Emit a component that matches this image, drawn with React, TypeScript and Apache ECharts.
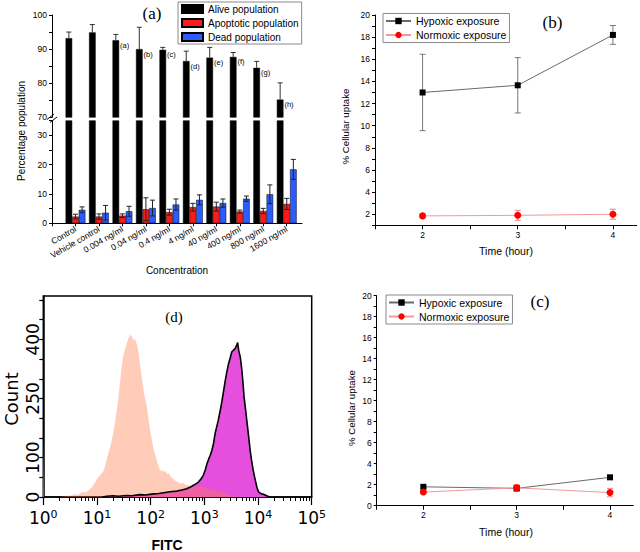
import React, { useEffect, useRef } from 'react';
import * as echarts from 'echarts';

// ---------- panel (a) ----------
const concentrations = ['Control', 'Vehicle control', '0.004 ng/ml', '0.04 ng/ml', '0.4 ng/ml', '4 ng/ml', '40 ng/ml', '400 ng/ml', '800 ng/ml', '1600 ng/ml'];
const alive = [93.2, 94.9, 92.6, 90.0, 89.8, 86.5, 87.5, 87.7, 84.5, 75.2];
const aliveErr = [1.8, 2.3, 1.7, 6.4, 0.7, 2.9, 3.0, 1.3, 1.9, 4.9];
const apoptotic = [2.3, 2.3, 2.6, 4.8, 3.8, 5.5, 5.7, 4.0, 4.2, 6.6];
const apoptoticErr = [0.8, 0.9, 0.6, 3.9, 1.0, 1.3, 1.5, 0.5, 0.9, 1.9];
const dead = [4.6, 3.6, 4.1, 5.2, 6.4, 8.0, 6.9, 8.4, 9.9, 18.4];
const deadErr = [1.0, 2.5, 1.7, 2.7, 1.9, 1.7, 1.4, 0.9, 3.2, 3.4];
const aliveNotes = ['', '', '(a)', '(b)', '(c)', '(d)', '(e)', '(f)', '(g)', '(h)'];
const upperTicks = [70, 75, 80, 85, 90, 95, 100];
const upperLabels = [70, 80, 90, 100];
const lowerTicks = [0, 5, 10, 15, 20, 25, 30, 35];
const lowerLabels = [0, 10, 20, 30];

// ---------- panels (b), (c) ----------
const hours = [2, 3, 4];
const hypoxicB = [13.0, 13.65, 18.2];
const hypoxicBErr = [3.45, 2.5, 0.85];
const normoxicB = [1.85, 1.9, 2.0];
const normoxicBErr = [0.2, 0.45, 0.45];
const hypoxicC = [1.8, 1.65, 2.7];
const hypoxicCErr = [0.12, 0.2, 0.2];
const normoxicC = [1.3, 1.7, 1.25];
const normoxicCErr = [0.15, 0.3, 0.4];
const timeTicks = [1.5, 2, 2.5, 3, 3.5, 4];
const timeLabels = [2, 3, 4];
const uptakeLabels = [0, 2, 4, 6, 8, 10, 12, 14, 16, 18, 20];

// ---------- panel (d) : [log10(FITC), count] ----------
const controlHist: number[][] = [
  [0.30, 0], [0.40, 2], [0.44, 4], [0.50, 3], [0.55, 5], [0.60, 7], [0.65, 6], [0.70, 10], [0.75, 13], [0.80, 12],
  [0.85, 18], [0.90, 24], [0.93, 30], [0.97, 38], [1.00, 45], [1.03, 51], [1.06, 56], [1.09, 60], [1.12, 66], [1.15, 78],
  [1.18, 95], [1.21, 110], [1.24, 124], [1.27, 140], [1.30, 160], [1.33, 185], [1.36, 212], [1.39, 240], [1.42, 280], [1.45, 318],
  [1.48, 352], [1.50, 362], [1.52, 375], [1.54, 381], [1.56, 392], [1.58, 400], [1.60, 408], [1.62, 415], [1.63, 405], [1.64, 411],
  [1.66, 404], [1.68, 398], [1.70, 402], [1.72, 396], [1.74, 388], [1.76, 378], [1.78, 360], [1.80, 338], [1.82, 318], [1.84, 298],
  [1.86, 279], [1.88, 262], [1.90, 248], [1.93, 228], [1.96, 196], [1.99, 169], [2.02, 148], [2.05, 124], [2.08, 110], [2.11, 95],
  [2.14, 80], [2.17, 70], [2.20, 64], [2.22, 70], [2.25, 63], [2.28, 66], [2.31, 58], [2.34, 60], [2.37, 52], [2.40, 48],
  [2.45, 42], [2.50, 38], [2.55, 34], [2.60, 36], [2.65, 31], [2.70, 30], [2.75, 27], [2.80, 25], [2.85, 28], [2.90, 28],
  [2.95, 26], [3.00, 25], [3.05, 22], [3.10, 20], [3.15, 18], [3.20, 17], [3.25, 15], [3.30, 14], [3.35, 12], [3.40, 10],
  [3.45, 7], [3.50, 4], [3.55, 2], [3.60, 0],
];
const treatedSpike: number[][] = [[0, 0], [0, 145], [0.012, 145], [0.014, 0]];
const treatedHist: number[][] = [
  [1.10, 0], [1.18, 2], [1.30, 3], [1.40, 2], [1.55, 4], [1.65, 3], [1.80, 6], [1.90, 5], [2.05, 8], [2.15, 9],
  [2.30, 12], [2.40, 14], [2.49, 15], [2.58, 18], [2.67, 21], [2.75, 26], [2.80, 30], [2.85, 34], [2.89, 38], [2.94, 46],
  [2.98, 55], [3.02, 70], [3.05, 85], [3.08, 96], [3.11, 106], [3.14, 118], [3.17, 135], [3.20, 161], [3.23, 178], [3.26, 195],
  [3.30, 222], [3.33, 245], [3.36, 270], [3.39, 296], [3.42, 318], [3.45, 338], [3.48, 352], [3.51, 368], [3.54, 372], [3.57, 376],
  [3.60, 384], [3.62, 392], [3.64, 372], [3.67, 355], [3.70, 321], [3.72, 290], [3.74, 254], [3.77, 220], [3.79, 195], [3.82, 160],
  [3.84, 135], [3.86, 112], [3.88, 93], [3.91, 68], [3.95, 42], [3.98, 24], [4.01, 13], [4.05, 9], [4.10, 7], [4.16, 3], [4.22, 0],
];
const decades = [0, 1, 2, 3, 4, 5];
const countTicks = [0, 50, 100, 150, 200, 250, 300, 350, 400, 450, 500];
const countLabels = [0, 100, 250, 400];

const SANS = "'Liberation Sans', Arial, sans-serif";
const SERIF = "'Liberation Serif', 'Times New Roman', serif";
const DV = "'DejaVu Sans', sans-serif";

const BW = 6.6;

function errSeries(xi: number, yi: number, xs: number[], vals: number[], errs: number[], dx: number, color: string, upOnly: boolean, cap: number) {
  return {
    type: 'custom',
    xAxisIndex: xi,
    yAxisIndex: yi,
    z: 1,
    silent: true,
    clip: false,
    encode: { x: 0, y: 1 },
    data: vals.map((v, i) => [xs[i], v, errs[i]]),
    renderItem: (params: any, api: any) => {
      const x = api.value(0);
      const v = api.value(1);
      const e = api.value(2);
      const top = api.coord([x, v + e]);
      const bot = api.coord([x, upOnly ? v : v - e]);
      const px = top[0] + dx;
      const style = { stroke: color, lineWidth: 1 };
      const children: any[] = [
        { type: 'line', shape: { x1: px, y1: top[1], x2: px, y2: bot[1] }, style },
        { type: 'line', shape: { x1: px - cap, y1: top[1], x2: px + cap, y2: top[1] }, style },
      ];
      if (!upOnly) children.push({ type: 'line', shape: { x1: px - cap, y1: bot[1], x2: px + cap, y2: bot[1] }, style });
      return { type: 'group', children };
    },
  };
}

function numAxisBase(gi: number) {
  return {
    type: 'value',
    gridIndex: gi,
    splitLine: { show: false },
    axisLine: { show: true, onZero: false, lineStyle: { color: '#000', width: 1 } },
    axisTick: { show: true, inside: false, length: 3, lineStyle: { color: '#000' } },
    axisLabel: { color: '#000', fontSize: 8.5, fontFamily: SANS, margin: 4 },
  };
}

export default function App() {
  const ref = useRef<HTMLDivElement>(null);
  useEffect(() => {
    if (!ref.current) return;
    const chart = echarts.init(ref.current, undefined, { renderer: 'svg' });
    const catX = concentrations.map((_, i) => i + 1);

    const grids = [
      { left: 52, top: 15, width: 250, height: 102.3 },
      { left: 52, top: 120.7, width: 250, height: 102.6 },
      { left: 375, top: 15, width: 261.7, height: 210.3 },
      { left: 376.7, top: 295.7, width: 256.6, height: 210 },
      { left: 43.3, top: 296, width: 268.4, height: 201, show: true, borderColor: '#000', borderWidth: 1.5 },
      { left: 43.3, top: 296, width: 268.4, height: 201 },
    ];

    const xAxis: any[] = [
      { ...numAxisBase(0), min: 0, max: 10.65, show: false },
      {
        ...numAxisBase(1), min: 0, max: 10.65,
        axisTick: { show: true, length: 3, customValues: [0, 1, 2, 3, 4, 5, 6, 7, 8, 9, 10], lineStyle: { color: '#000' } },
        axisLabel: {
          color: '#000', fontSize: 8.5, fontFamily: SANS, rotate: 30, margin: 5,
          customValues: catX, formatter: (v: number) => concentrations[Math.round(v) - 1] ?? '',
        },
      },
      {
        ...numAxisBase(2), min: 1.5, max: 4.25,
        axisTick: { show: true, length: 4, customValues: timeTicks, lineStyle: { color: '#000' } },
        axisLabel: { color: '#000', fontSize: 8.5, fontFamily: SANS, margin: 5, customValues: timeLabels },
      },
      {
        ...numAxisBase(3), min: 1.5, max: 4.25,
        axisTick: { show: true, length: 4, customValues: timeTicks, lineStyle: { color: '#000' } },
        axisLabel: { color: '#000', fontSize: 8.5, fontFamily: SANS, margin: 5, customValues: timeLabels },
      },
      {
        ...numAxisBase(4), min: 0, max: 5,
        axisLine: { show: true, onZero: false, lineStyle: { color: '#000', width: 1.5 } },
        axisTick: { show: true, length: 8, customValues: decades, lineStyle: { color: '#000', width: 1.2 } },
        axisLabel: {
          color: '#000', margin: 12, customValues: decades,
          formatter: (v: number) => `{b|10}{s|${Math.round(v)}}`,
          rich: {
            b: { fontSize: 17, fontFamily: DV, color: '#000' },
            s: { fontSize: 11, fontFamily: DV, color: '#000', verticalAlign: 'top', padding: [0, 0, 7, 0] },
          },
        },
      },
      {
        type: 'value', gridIndex: 5, min: 0, max: 5,
        splitLine: { show: false },
        axisLine: { show: false, onZero: false },
        axisLabel: { show: false },
        axisTick: {
          show: true, length: 4, lineStyle: { color: '#000' },
          customValues: decades.slice(0, 5).flatMap((d) => [2, 3, 4, 5, 6, 7, 8, 9].map((k) => d + Math.log10(k))),
        },
      },
    ];

    const yAxis: any[] = [
      {
        ...numAxisBase(0), min: 70, max: 100,
        axisTick: { show: true, length: 3, customValues: upperTicks, lineStyle: { color: '#000' } },
        axisLabel: { color: '#000', fontSize: 8.5, fontFamily: SANS, margin: 5, customValues: upperLabels },
      },
      {
        ...numAxisBase(1), min: 0, max: 35,
        axisTick: { show: true, length: 3, customValues: lowerTicks, lineStyle: { color: '#000' } },
        axisLabel: { color: '#000', fontSize: 8.5, fontFamily: SANS, margin: 5, customValues: lowerLabels },
      },
      {
        ...numAxisBase(2), min: 1, max: 20,
        axisTick: { show: true, length: 3, customValues: Array.from({ length: 20 }, (_, i) => i + 1), lineStyle: { color: '#000' } },
        axisLabel: { color: '#000', fontSize: 8.5, fontFamily: SANS, margin: 5, customValues: uptakeLabels.slice(1) },
      },
      {
        ...numAxisBase(3), min: 0, max: 20,
        axisTick: { show: true, length: 3, customValues: Array.from({ length: 21 }, (_, i) => i), lineStyle: { color: '#000' } },
        axisLabel: { color: '#000', fontSize: 8.5, fontFamily: SANS, margin: 5, customValues: uptakeLabels },
      },
      {
        ...numAxisBase(4), min: 0, max: 510,
        axisLine: { show: true, onZero: false, lineStyle: { color: '#000', width: 1.5 } },
        axisTick: { show: true, length: 4, customValues: countTicks, lineStyle: { color: '#000', width: 1.2 } },
        axisLabel: { color: '#000', fontSize: 17, fontFamily: DV, margin: 2, rotate: 90, customValues: countLabels },
      },
      { type: 'value', gridIndex: 5, min: 0, max: 510, show: false },
    ];

    const barItem = (color: string) => ({ color, borderColor: '#000', borderWidth: 0.5 });
    const nulls = catX.map((x) => [x, '-']);

    const series: any[] = [
      // (a) upper grid
      {
        type: 'bar', name: 'Alive population', xAxisIndex: 0, yAxisIndex: 0, barWidth: BW, barGap: '0%',
        itemStyle: barItem('#000'), data: alive.map((v, i) => [catX[i], v]),
        label: {
          show: true, position: ['100%', 0], offset: [1, 1], align: 'left', verticalAlign: 'top',
          fontSize: 7.5, fontFamily: SANS, color: '#000',
          formatter: (p: any) => aliveNotes[p.dataIndex],
        },
      },
      { type: 'bar', name: 'Apoptotic population', xAxisIndex: 0, yAxisIndex: 0, barWidth: BW, barGap: '0%', itemStyle: barItem('#ff1a1a'), data: nulls },
      { type: 'bar', name: 'Dead population', xAxisIndex: 0, yAxisIndex: 0, barWidth: BW, barGap: '0%', itemStyle: barItem('#2b5cff'), data: nulls },
      // (a) lower grid
      { type: 'bar', name: 'Alive population', xAxisIndex: 1, yAxisIndex: 1, barWidth: BW, barGap: '0%', itemStyle: barItem('#000'), data: alive.map((v, i) => [catX[i], v]) },
      { type: 'bar', name: 'Apoptotic population', xAxisIndex: 1, yAxisIndex: 1, barWidth: BW, barGap: '0%', itemStyle: barItem('#ff1a1a'), data: apoptotic.map((v, i) => [catX[i], v]) },
      { type: 'bar', name: 'Dead population', xAxisIndex: 1, yAxisIndex: 1, barWidth: BW, barGap: '0%', itemStyle: barItem('#2b5cff'), data: dead.map((v, i) => [catX[i], v]) },
      { ...errSeries(0, 0, catX, alive, aliveErr, -BW, '#333', true, 2.5), z: 3 },
      { ...errSeries(1, 1, catX, apoptotic, apoptoticErr, 0, '#222', false, 2.5), z: 3 },
      { ...errSeries(1, 1, catX, dead, deadErr, BW, '#222', false, 2.5), z: 3 },

      // (b)
      errSeries(2, 2, hours, hypoxicB, hypoxicBErr, 0, '#777', false, 3),
      errSeries(2, 2, hours, normoxicB, normoxicBErr, 0, '#f08080', false, 3),
      {
        type: 'line', name: 'Hypoxic exposure', xAxisIndex: 2, yAxisIndex: 2, z: 2,
        symbol: 'rect', symbolSize: 6, itemStyle: { color: '#000' }, lineStyle: { color: '#6a6a6a', width: 1 },
        data: hours.map((h, i) => [h, hypoxicB[i]]),
      },
      {
        type: 'line', name: 'Normoxic exposure', xAxisIndex: 2, yAxisIndex: 2, z: 2,
        symbol: 'circle', symbolSize: 7, itemStyle: { color: '#ff0000' }, lineStyle: { color: '#f29a9a', width: 1 },
        data: hours.map((h, i) => [h, normoxicB[i]]),
      },
      // (c)
      errSeries(3, 3, hours, hypoxicC, hypoxicCErr, 0, '#777', false, 3),
      errSeries(3, 3, hours, normoxicC, normoxicCErr, 0, '#f08080', false, 3),
      {
        type: 'line', name: 'Hypoxic exposure', xAxisIndex: 3, yAxisIndex: 3, z: 2,
        symbol: 'rect', symbolSize: 6, itemStyle: { color: '#000' }, lineStyle: { color: '#6a6a6a', width: 1 },
        data: hours.map((h, i) => [h, hypoxicC[i]]),
      },
      {
        type: 'line', name: 'Normoxic exposure', xAxisIndex: 3, yAxisIndex: 3, z: 2,
        symbol: 'circle', symbolSize: 7, itemStyle: { color: '#ff0000' }, lineStyle: { color: '#f29a9a', width: 1 },
        data: hours.map((h, i) => [h, normoxicC[i]]),
      },

      // (d)
      {
        type: 'line', name: 'treated-fill', xAxisIndex: 4, yAxisIndex: 4, symbol: 'none', silent: true,
        lineStyle: { width: 0, opacity: 0 }, areaStyle: { color: '#e64fde', opacity: 1 },
        data: [...treatedSpike, ...treatedHist],
      },
      {
        type: 'line', name: 'control', xAxisIndex: 4, yAxisIndex: 4, symbol: 'none', silent: true,
        lineStyle: { width: 0, opacity: 0 }, areaStyle: { color: 'rgba(255,120,70,0.38)', opacity: 1 },
        data: controlHist,
      },
      {
        type: 'line', name: 'treated-outline', xAxisIndex: 4, yAxisIndex: 4, symbol: 'none', silent: true,
        lineStyle: { width: 1.6, color: '#000' },
        data: treatedHist,
      },
    ];

    const legendBase = {
      orient: 'vertical',
      borderColor: '#8a8a8a',
      borderWidth: 1,
      borderRadius: 0,
      backgroundColor: '#fff',
      selectedMode: false,
      textStyle: { fontSize: 10, fontFamily: SANS, color: '#000' },
    };

    const option: any = {
      animation: false,
      textStyle: { fontFamily: SANS },
      grid: grids,
      xAxis,
      yAxis,
      series,
      legend: [
        {
          ...legendBase, left: 178, top: 2, padding: [2, 3, 2, 3], itemGap: 4, itemWidth: 21, itemHeight: 8, icon: 'rect',
          data: ['Alive population', 'Apoptotic population', 'Dead population'],
        },
        {
          ...legendBase, left: 383, top: 13.5, padding: [2, 3, 2, 2], itemGap: 3, itemWidth: 25, itemHeight: 8,
          textStyle: { fontSize: 10.5, fontFamily: SANS, color: '#000' },
          data: ['Hypoxic exposure', 'Normoxic exposure'],
        },
        {
          ...legendBase, left: 386, top: 295, padding: [2, 3, 2, 2], itemGap: 3, itemWidth: 25, itemHeight: 8,
          textStyle: { fontSize: 10.5, fontFamily: SANS, color: '#000' },
          data: ['Hypoxic exposure', 'Normoxic exposure'],
        },
      ],
      graphic: [
        // panel letters
        { type: 'text', x: 152, y: 13.5, style: { text: '(a)', font: `17px ${SERIF}`, fill: '#000', align: 'center', verticalAlign: 'middle' } },
        { type: 'text', x: 552.5, y: 22.5, style: { text: '(b)', font: `17px ${SERIF}`, fill: '#000', align: 'center', verticalAlign: 'middle' } },
        { type: 'text', x: 540, y: 301.5, style: { text: '(c)', font: `17px ${SERIF}`, fill: '#000', align: 'center', verticalAlign: 'middle' } },
        { type: 'text', x: 174, y: 316.5, style: { text: '(d)', font: `15px ${SERIF}`, fill: '#000', align: 'center', verticalAlign: 'middle' } },
        // axis titles
        { type: 'text', x: 21.5, y: 131, rotation: Math.PI / 2, style: { text: 'Percentage population', font: `10px ${SANS}`, fill: '#000', align: 'center', verticalAlign: 'middle' } },
        { type: 'text', x: 177, y: 270, style: { text: 'Concentration', font: `10px ${SANS}`, fill: '#000', align: 'center', verticalAlign: 'middle' } },
        { type: 'text', x: 345.5, y: 126.5, rotation: Math.PI / 2, style: { text: '% Cellular uptake', font: `9.7px ${SANS}`, fill: '#000', align: 'center', verticalAlign: 'middle' } },
        { type: 'text', x: 506, y: 250.5, style: { text: 'Time (hour)', font: `10.5px ${SANS}`, fill: '#000', align: 'center', verticalAlign: 'middle' } },
        { type: 'text', x: 351, y: 408, rotation: Math.PI / 2, style: { text: '% Cellular uptake', font: `9.7px ${SANS}`, fill: '#000', align: 'center', verticalAlign: 'middle' } },
        { type: 'text', x: 506, y: 531.5, style: { text: 'Time (hour)', font: `10.5px ${SANS}`, fill: '#000', align: 'center', verticalAlign: 'middle' } },
        { type: 'text', x: 11, y: 399, rotation: Math.PI / 2, style: { text: 'Count', font: `18px ${DV}`, fill: '#000', align: 'center', verticalAlign: 'middle' } },
        { type: 'text', x: 167, y: 545, style: { text: 'FITC', font: `bold 14px 'Liberation Sans Narrow', ${SANS}`, fill: '#000', align: 'center', verticalAlign: 'middle' } },
        // axis break marks
        { type: 'line', shape: { x1: 47, y1: 119.5, x2: 54, y2: 114 }, style: { stroke: '#000', lineWidth: 1 } },
        { type: 'line', shape: { x1: 50, y1: 122.5, x2: 57, y2: 117 }, style: { stroke: '#000', lineWidth: 1 } },
      ],
    };

    chart.setOption(option);
    return () => chart.dispose();
  }, []);

  return <div ref={ref} style={{ position: 'fixed', left: 0, top: 0, width: 640, height: 552, background: '#fff' }} />;
}
